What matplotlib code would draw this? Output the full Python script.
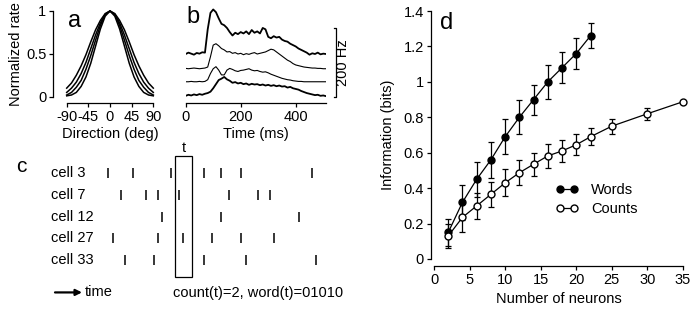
import numpy as np
import matplotlib
matplotlib.use('Agg')
import matplotlib.pyplot as plt
from matplotlib.patches import Rectangle
from matplotlib.ticker import FuncFormatter

plt.rcParams.update({
    'font.family': ['Liberation Sans', 'DejaVu Sans'],
    'font.size': 10.5,
    'axes.unicode_minus': False,
    'axes.linewidth': 0.9,
    'xtick.major.size': 3, 'ytick.major.size': 3,
    'xtick.major.width': 0.9, 'ytick.major.width': 0.9,
    'xtick.major.pad': 2, 'ytick.major.pad': 2,
})

# ---- panel a: tuning curves ----
direction = [-90, -80, -70, -60, -50, -40, -30, -20, -10, 0,
             10, 20, 30, 40, 50, 60, 70, 80, 90]
tuning = [
    [0.10, 0.16, 0.25, 0.36, 0.49, 0.64, 0.78, 0.89, 0.97, 1.0,
     0.97, 0.89, 0.78, 0.64, 0.49, 0.36, 0.25, 0.16, 0.10],
    [0.05, 0.10, 0.17, 0.27, 0.40, 0.56, 0.72, 0.86, 0.96, 1.0,
     0.96, 0.86, 0.72, 0.56, 0.40, 0.27, 0.17, 0.10, 0.05],
    [0.02, 0.05, 0.11, 0.19, 0.32, 0.48, 0.66, 0.83, 0.96, 1.0,
     0.96, 0.83, 0.66, 0.48, 0.32, 0.19, 0.11, 0.05, 0.02],
    [0.01, 0.02, 0.05, 0.12, 0.23, 0.39, 0.59, 0.79, 0.94, 1.0,
     0.94, 0.79, 0.59, 0.39, 0.23, 0.12, 0.05, 0.02, 0.01],
]

# ---- panel b: PSTHs (Hz), one value every 10 ms ----
time_ms = list(range(0, 520, 10))
psth = [
    [8, 12, 9, 6, 11, 9, 13, 12, 80, 128, 138, 130, 112, 96, 92, 84, 72, 62,
     70, 66, 72, 68, 74, 66, 78, 70, 74, 68, 84, 80, 58, 54, 60, 56, 58, 50,
     46, 44, 38, 34, 30, 24, 20, 16, 12, 6, 10, 8, 12, 7, 9, 8],
    [6, 5, 6, 7, 6, 5, 6, 7, 10, 40, 74, 78, 72, 64, 60, 54, 55, 50, 52, 48,
     50, 46, 49, 47, 50, 52, 48, 50, 52, 54, 58, 62, 60, 54, 48, 42, 36, 30,
     26, 20, 16, 14, 12, 10, 9, 8, 7, 7, 6, 6, 5, 5],
    [4, 4, 5, 4, 4, 5, 4, 5, 10, 28, 42, 48, 38, 24, 24, 38, 43, 40, 36, 34,
     37, 38, 40, 42, 38, 36, 37, 34, 32, 33, 30, 26, 23, 20, 17, 14, 12, 10,
     9, 7, 6, 5, 5, 4, 4, 4, 4, 4, 4, 4, 4, 4],
    [6, 9, 7, 10, 8, 11, 9, 12, 14, 18, 28, 40, 52, 56, 61, 54, 50, 44, 46,
     42, 44, 40, 42, 38, 41, 39, 40, 37, 39, 36, 38, 35, 37, 34, 36, 33, 34,
     30, 32, 28, 26, 24, 20, 17, 14, 12, 10, 8, 9, 6, 7, 5],
]
psth_offset = [135, 95, 58, 15]
psth_lw = [1.3, 0.8, 0.8, 1.3]

# ---- panel c: spike raster ----
cells = ['cell 3', 'cell 7', 'cell 12', 'cell 27', 'cell 33']
spikes = [
    [8, 33, 71, 104, 121, 141, 212],
    [21, 46, 58, 79, 129, 158, 170],
    [62, 121, 199],
    [13, 58, 83, 112, 141, 174],
    [25, 54, 104, 146, 216],
]
window = (75, 92)

# ---- panel d: information vs number of neurons ----
n_words = [2, 4, 6, 8, 10, 12, 14, 16, 18, 20, 22]
info_words = [0.15, 0.32, 0.45, 0.56, 0.69, 0.80, 0.90, 1.00, 1.08, 1.16, 1.26]
err_words = [0.075, 0.10, 0.10, 0.10, 0.10, 0.095, 0.085, 0.095, 0.088, 0.088, 0.07]
n_counts = [2, 4, 6, 8, 10, 12, 14, 16, 18, 20, 22, 25, 30, 35]
info_counts = [0.13, 0.235, 0.30, 0.365, 0.43, 0.487, 0.535, 0.582, 0.61,
               0.645, 0.69, 0.75, 0.82, 0.888]
err_counts = [0.066, 0.08, 0.072, 0.072, 0.077, 0.07, 0.066, 0.066, 0.06,
              0.058, 0.047, 0.042, 0.033, 0.0]

W, H = 692, 314


def rect(x0, y0, x1, y1):
    return [x0 / W, 1 - y1 / H, (x1 - x0) / W, (y1 - y0) / H]


fmt_g = FuncFormatter(lambda v, p: f'{v:g}')
fig = plt.figure(figsize=(W / 100, H / 100), dpi=100)

# Panel a
ax = fig.add_axes(rect(66.7, 11, 153.3, 96.7))
for curve in tuning:
    ax.plot(direction, curve, color='k', lw=1.1, clip_on=False)
ax.set_xlim(-90, 90)
ax.set_ylim(0, 1)
ax.set_xticks([-90, -45, 0, 45, 90])
ax.set_yticks([0, 0.5, 1])
ax.yaxis.set_major_formatter(fmt_g)
ax.spines[['top', 'right']].set_visible(False)
ax.spines['left'].set_position(('outward', 9.6))
ax.spines['bottom'].set_position(('outward', 4.8))
ax.set_xlabel('Direction (deg)', labelpad=2)
ax.set_ylabel('Normalized rate', labelpad=2)
ax.text(-87, 0.88, 'a', fontsize=17, va='center')

# Panel b
ax = fig.add_axes(rect(185.7, 5, 326, 103))
for rate, off, lw in zip(psth, psth_offset, psth_lw):
    ax.plot(time_ms[:len(rate)], np.array(rate) + off, color='k', lw=lw)
ax.set_xlim(0, 510)
ax.set_ylim(0, 286)
ax.set_xticks([0, 200, 400])
ax.set_yticks([])
ax.spines[['top', 'right', 'left']].set_visible(False)
ax.set_xlabel('Time (ms)', labelpad=2)
ax.plot([538, 545, 545, 538], [18, 18, 218, 218], color='k', lw=0.9, clip_on=False)
ax.text(572, 118, '200 Hz', rotation=90, ha='center', va='center')
ax.text(2, 250, 'b', fontsize=17, va='center')

# Panel c
ax = fig.add_axes(rect(0, 140, 340, 305))
ax.set_xlim(-100, 240)
ax.set_ylim(6.08, -1.53)
ax.axis('off')
for i, (name, times) in enumerate(zip(cells, spikes)):
    ax.text(-49.3, i, name, ha='left', va='center')
    ax.vlines(times, i - 0.23, i + 0.23, color='k', lw=1.1)
ax.add_patch(Rectangle((window[0], -0.81), window[1] - window[0], 5.58,
                       fill=False, ec='k', lw=0.9))
ax.text(sum(window) / 2, -1.15, 't', ha='center', va='center')
ax.text(-79, -0.3, 'c', fontsize=15, ha='center', va='center')
ax.annotate('', xy=(-18, 5.5), xytext=(-45, 5.5),
            arrowprops=dict(arrowstyle='-|>', color='k', lw=1.6,
                            mutation_scale=9, shrinkA=0, shrinkB=0))
ax.text(-15, 5.47, 'time', ha='left', va='center')
ax.text(73, 5.52, 'count(t)=2, word(t)=01010', ha='left', va='center')

# Panel d
ax = fig.add_axes(rect(434, 11, 683, 259))
eb_w = ax.errorbar(n_words, info_words, yerr=err_words, fmt='o-', color='k',
                   mfc='k', mec='k', ms=5, lw=0.9, elinewidth=0.9,
                   capsize=2.5, capthick=0.9, clip_on=False, zorder=2)
eb_c = ax.errorbar(n_counts, info_counts, yerr=err_counts, fmt='o-', color='k',
                   mfc='white', mec='k', ms=5, lw=0.9, elinewidth=0.9,
                   capsize=2.5, capthick=0.9, clip_on=False, zorder=3)
ax.set_xlim(0, 35)
ax.set_ylim(0, 1.4)
ax.set_xticks(range(0, 36, 5))
ax.set_yticks(np.arange(0, 1.41, 0.2))
ax.yaxis.set_major_formatter(fmt_g)
ax.spines[['top', 'right']].set_visible(False)
ax.spines['left'].set_position(('outward', 2.2))
ax.spines['bottom'].set_position(('outward', 5))
ax.set_xlabel('Number of neurons', labelpad=4)
ax.set_ylabel('Information (bits)', labelpad=6)
ax.text(0.8, 1.33, 'd', fontsize=17, va='center')
ax.legend([eb_w[0], eb_c[0]], ['Words', 'Counts'], numpoints=2,
          loc='upper left', bbox_to_anchor=(0.49, 0.305), frameon=False,
          handlelength=1.5, handletextpad=0.9, labelspacing=0.3,
          borderpad=0, borderaxespad=0)

fig.savefig('out.png', dpi=100)
print('Saved: out.png')
